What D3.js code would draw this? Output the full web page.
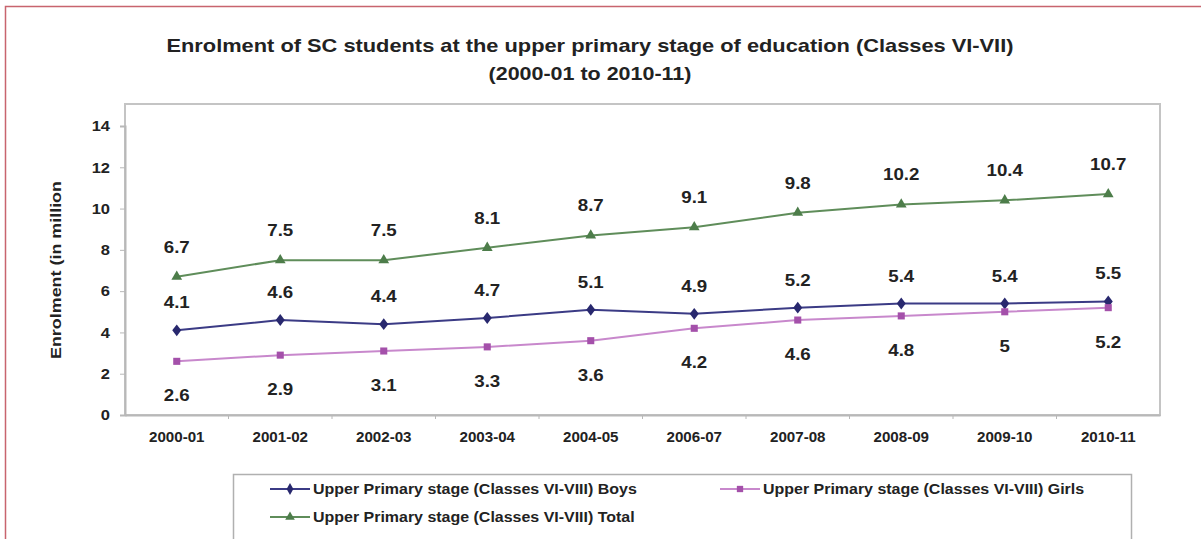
<!DOCTYPE html>
<html><head><meta charset="utf-8">
<script src="https://cdn.jsdelivr.net/npm/d3@7"></script>
<style>body{margin:0;background:#fff}svg{display:block}text{font-family:"Liberation Sans",Arial,sans-serif;font-weight:bold;fill:#222}</style>
</head><body>
<svg id="c" width="1201" height="539"></svg>
<script>
const categories = ["2000-01","2001-02","2002-03","2003-04","2004-05","2006-07","2007-08","2008-09","2009-10","2010-11"];
const boys  = [4.1,4.6,4.4,4.7,5.1,4.9,5.2,5.4,5.4,5.5];
const girls = [2.6,2.9,3.1,3.3,3.6,4.2,4.6,4.8,5,5.2];
const total = [6.7,7.5,7.5,8.1,8.7,9.1,9.8,10.2,10.4,10.7];
const yTicks = [0,2,4,6,8,10,12,14];
const seriesNames = ["Upper Primary stage (Classes VI-VIII) Boys","Upper Primary stage (Classes VI-VIII) Girls","Upper Primary stage (Classes VI-VIII) Total"];

const svg = d3.select("#c");
function stretch(sel, k){
  sel.each(function(){ const w=this.getComputedTextLength(); d3.select(this).attr("textLength",w*k).attr("lengthAdjust","spacingAndGlyphs"); });
}
// outer frame
svg.append("path").attr("d","M5.5,539 V6.5 H1201").attr("fill","none").attr("stroke","#c8646e").attr("stroke-width",1.5);

const L=125, R=1160, T=104, B=415;
const x = d3.scaleBand().domain(categories).range([L,R]).padding(0);
const y = d3.scaleLinear().domain([0,14]).range([B,126]);

// title
const t1 = svg.append("text").attr("x",590).attr("y",52).attr("text-anchor","middle").style("font-size","18.5px")
  .text("Enrolment of SC students at the upper primary stage of education (Classes VI-VII)");
const t2 = svg.append("text").attr("x",590).attr("y",80).attr("text-anchor","middle").style("font-size","18.5px")
  .text("(2000-01 to 2010-11)");
t1.each(function(){ d3.select(this).attr("textLength",847).attr("lengthAdjust","spacingAndGlyphs"); });
stretch(t2, 1.16);

// plot frame
svg.append("rect").attr("x",L).attr("y",T).attr("width",R-L).attr("height",B-T)
  .attr("fill","none").attr("stroke","#c4c4c4").attr("stroke-width",2);

// y axis
const ya = svg.append("g").attr("transform",`translate(${L},0)`)
  .call(d3.axisLeft(y).tickValues(yTicks).tickSize(5).tickPadding(10).tickFormat(d3.format("d")));
ya.select(".domain").attr("stroke","#b8b8b8").attr("stroke-width",2);
ya.selectAll(".tick line").attr("stroke","#b8b8b8");
ya.selectAll("text").style("font-size","15px").attr("fill","#222");
stretch(ya.selectAll("text"),1.1);

// x axis
const xa = svg.append("g").attr("transform",`translate(0,${B})`)
  .call(d3.axisBottom(x).tickSize(0).tickPadding(17));
xa.select(".domain").attr("stroke","#b8b8b8").attr("stroke-width",2);
xa.selectAll("text").style("font-size","14px").attr("fill","#222");
stretch(xa.selectAll("text"),1.08);
// boundary ticks
svg.append("g").selectAll("line").data(categories.slice(1)).join("line")
  .attr("x1",d=>x(d)).attr("x2",d=>x(d)).attr("y1",B).attr("y2",B+4).attr("stroke","#b8b8b8");

// y title
svg.append("text").attr("transform","translate(61,270) rotate(-90)").attr("text-anchor","middle")
  .style("font-size","14.5px").text("Enrolment (in million")
  .attr("textLength",178).attr("lengthAdjust","spacingAndGlyphs");

const cx = d => x(d)+x.bandwidth()/2;
const series = [
  {vals:boys, line:"#3b3b85", mark:"#28286e", shape:d3.symbolDiamond, off:-22},
  {vals:girls, line:"#c888cc", mark:"#a450aa", shape:d3.symbolSquare, off:40},
  {vals:total, line:"#5f8d5a", mark:"#4d7d4a", shape:d3.symbolTriangle, off:-24}
];
const line = d3.line().x((d,i)=>cx(categories[i])).y(d=>y(d));
series.forEach(s=>{
  svg.append("path").datum(s.vals).attr("d",line).attr("fill","none").attr("stroke",s.line).attr("stroke-width",2);
  svg.append("g").selectAll("path").data(s.vals).join("path")
    .attr("d",d3.symbol().type(s.shape).size(s.shape===d3.symbolDiamond?45:50))
    .attr("transform",(d,i)=>`translate(${cx(categories[i])},${y(d)})`+(s.shape===d3.symbolDiamond?" scale(1.25,0.95)":"")).attr("fill",s.mark);
  const lab = svg.append("g").selectAll("text").data(s.vals).join("text")
    .attr("x",(d,i)=>cx(categories[i])).attr("y",d=>y(d)+s.off).attr("text-anchor","middle")
    .style("font-size","17px").text(d=>d);
  stretch(lab,1.1);
});

// legend
svg.append("rect").attr("x",233.5).attr("y",474.5).attr("width",898).attr("height",80)
  .attr("fill","#fff").attr("stroke","#b0b0b0").attr("stroke-width",1.5);
const leg = [
  {sx:270, sy:489, s:series[0], name:seriesNames[0], w:327},
  {sx:720, sy:489, s:series[1], name:seriesNames[1], w:330},
  {sx:270, sy:517, s:series[2], name:seriesNames[2], w:330}
];
leg.forEach(l=>{
  svg.append("line").attr("x1",l.sx).attr("x2",l.sx+40).attr("y1",l.sy).attr("y2",l.sy).attr("stroke",l.s.line).attr("stroke-width",2);
  svg.append("path").attr("d",d3.symbol().type(l.s.shape).size(40)).attr("transform",`translate(${l.sx+20},${l.sy})`).attr("fill",l.s.mark);
  const t = svg.append("text").attr("x",l.sx+43).attr("y",l.sy+5).style("font-size","14px").text(l.name);
  stretch(t, 1.14);
});
</script>
</body></html>
